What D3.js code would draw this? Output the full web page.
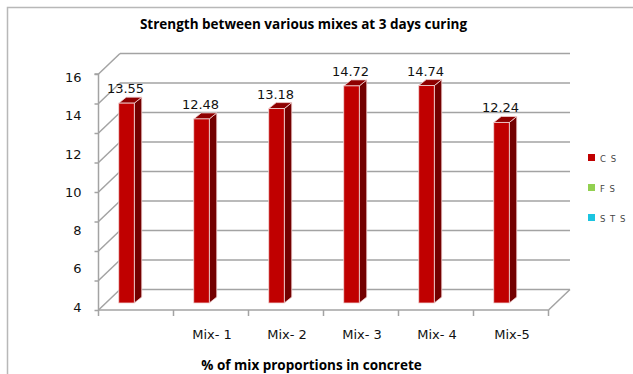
<!DOCTYPE html>
<html>
<head>
<meta charset="utf-8">
<script src="https://cdn.jsdelivr.net/npm/d3@7"></script>
<style>
  html, body { margin: 0; padding: 0; background: #fff; }
  svg { display: block; }
</style>
</head>
<body>
<svg id="chart" width="633" height="374"></svg>
<script>
// Compressive strength (CS) at 3 days of curing for each mix
const categories = ["", "Mix- 1", "Mix- 2", "Mix- 3", "Mix- 4", "Mix-5"];
const csValues = [13.55, 12.48, 13.18, 14.72, 14.74, 12.24];
const seriesNames = ["C S", "F S", "S T S"];
const seriesColors = ["#c00000", "#92d050", "#1bc4e0"];
const gridValues = [0, 2, 4, 6, 8, 10, 12, 14, 16];
const tickLabels = [4, 6, 8, 10, 12, 14, 16];

const svg = d3.select("#chart");
const numFont = "'DejaVu Sans', Verdana, sans-serif";
const boldFont = "'Open Sans', 'Noto Sans', sans-serif";
const gridColor = "#a3a3a3";

// outer chart frame
svg.append("rect")
  .attr("x", 7.5).attr("y", 7.5)
  .attr("width", 700).attr("height", 420)
  .attr("fill", "none").attr("stroke", "#b8b8b8").attr("stroke-width", 1.5);

// title
svg.append("text")
  .attr("x", 303.5).attr("y", 29)
  .attr("text-anchor", "middle")
  .attr("font-family", boldFont).attr("font-weight", 700).attr("font-size", 13.5)
  .attr("fill", "#000")
  .text("Strength between various mixes at 3 days curing");

// scales
const y = d3.scaleLinear().domain([0, 16]).range([310, 74]);
const x = d3.scaleBand().domain(categories).range([98.5, 548.5]);
const bw = x.bandwidth();
const labelY = d3.scaleLinear().domain([4, 16]).range([307, 77.5]);

// perspective offsets: walls and bar depth
const wall = { dx: 21.5, dy: -20.5 };
const backRight = 570;
const barDepth = { dx: 7.5, dy: -6 };
const barShift = { dx: bw * 0.27 - 0, dy: -7 };
const barW = bw * 0.207;

const g = svg.append("g");

// back wall gridlines and side wall diagonals
g.selectAll("line.grid").data(gridValues).join("line")
  .attr("class", "grid")
  .attr("x1", x.range()[0] + wall.dx).attr("x2", backRight)
  .attr("y1", d => y(d) + wall.dy).attr("y2", d => y(d) + wall.dy)
  .attr("stroke", gridColor).attr("stroke-width", 1.5);
g.selectAll("line.diag").data(gridValues).join("line")
  .attr("class", "diag")
  .attr("x1", x.range()[0]).attr("x2", x.range()[0] + wall.dx)
  .attr("y1", d => y(d)).attr("y2", d => y(d) + wall.dy)
  .attr("stroke", gridColor).attr("stroke-width", 1.5);

// floor front edge and right edge
g.append("line")
  .attr("x1", x.range()[0]).attr("x2", x.range()[1])
  .attr("y1", y(0)).attr("y2", y(0))
  .attr("stroke", gridColor).attr("stroke-width", 1.5);
g.append("line")
  .attr("x1", x.range()[1]).attr("x2", backRight)
  .attr("y1", y(0)).attr("y2", y(0) + wall.dy)
  .attr("stroke", gridColor).attr("stroke-width", 1.5);

// category boundary ticks
const edges = categories.map(c => x(c)).concat([x.range()[1]]);
g.selectAll("line.xtick").data(edges).join("line")
  .attr("class", "xtick")
  .attr("x1", d => d).attr("x2", d => d)
  .attr("y1", y(0)).attr("y2", y(0) + 6)
  .attr("stroke", gridColor).attr("stroke-width", 1.5);

// front value axis
const yAxis = g.append("g")
  .attr("transform", `translate(${x.range()[0]},0)`)
  .call(d3.axisLeft(y).tickValues(gridValues).tickSize(4).tickFormat(""));
yAxis.selectAll("path, line").attr("stroke", gridColor).attr("stroke-width", 1.5);
yAxis.select("path").attr("d", `M-4,${y(16)}H0V${y(0)}`);

// value axis labels
g.selectAll("text.ylab").data(tickLabels).join("text")
  .attr("class", "ylab")
  .attr("x", 81.5).attr("y", d => labelY(d))
  .attr("dy", "0.36em")
  .attr("text-anchor", "end")
  .attr("font-family", numFont).attr("font-size", 13)
  .attr("fill", "#111")
  .text(d => d);

// category labels
g.selectAll("text.xlab").data(categories).join("text")
  .attr("class", "xlab")
  .attr("x", d => x(d) + bw / 2 + 1).attr("y", 339)
  .attr("text-anchor", "middle")
  .attr("font-family", numFont).attr("font-size", 13)
  .attr("fill", "#111")
  .text(d => d);

// axis title
svg.append("text")
  .attr("x", 311.5).attr("y", 370)
  .attr("text-anchor", "middle")
  .attr("font-family", boldFont).attr("font-weight", 700).attr("font-size", 13.5)
  .attr("fill", "#000")
  .text("% of mix proportions in concrete");

// 3D columns
const bars = categories.map((c, i) => {
  const x0 = x(c) + barShift.dx;
  const x1 = x0 + barW;
  const yb = y(0) + barShift.dy;
  const yt = y(csValues[i]) + barShift.dy;
  return { c, v: csValues[i], x0, x1, yb, yt };
});
const pts = a => a.map(p => p.join(",")).join(" ");
const bar = g.selectAll("g.bar").data(bars).join("g").attr("class", "bar");
bar.append("polygon")
  .attr("points", d => pts([[d.x1, d.yt], [d.x1 + barDepth.dx, d.yt + barDepth.dy],
    [d.x1 + barDepth.dx, d.yb + barDepth.dy], [d.x1, d.yb]]))
  .attr("fill", "#730000").attr("stroke", "#f2d4d4").attr("stroke-width", 0.8);
bar.append("polygon")
  .attr("points", d => pts([[d.x0, d.yt], [d.x0 + barDepth.dx, d.yt + barDepth.dy],
    [d.x1 + barDepth.dx, d.yt + barDepth.dy], [d.x1, d.yt]]))
  .attr("fill", "#8e0000").attr("stroke", "#f2d4d4").attr("stroke-width", 0.8);
bar.append("rect")
  .attr("x", d => d.x0).attr("y", d => d.yt)
  .attr("width", barW).attr("height", d => d.yb - d.yt)
  .attr("fill", seriesColors[0]).attr("stroke", "#f2d4d4").attr("stroke-width", 0.8);

// value labels
bar.append("text")
  .attr("x", d => (d.x0 + d.x1) / 2 - 1).attr("y", d => d.yt - 10)
  .attr("text-anchor", "middle")
  .attr("font-family", numFont).attr("font-size", 13)
  .attr("fill", "#111")
  .text(d => d.v.toFixed(2));

// legend
const leg = svg.append("g").selectAll("g").data(seriesNames).join("g")
  .attr("transform", (d, i) => `translate(588,${154 + i * 30})`);
leg.append("rect").attr("width", 7).attr("height", 7)
  .attr("fill", (d, i) => seriesColors[i]);
leg.append("text")
  .attr("x", 12).attr("y", 7.5)
  .attr("font-family", numFont).attr("font-size", 8.5)
  .attr("letter-spacing", 1)
  .attr("fill", "#444")
  .text(d => d);
</script>
</body>
</html>
